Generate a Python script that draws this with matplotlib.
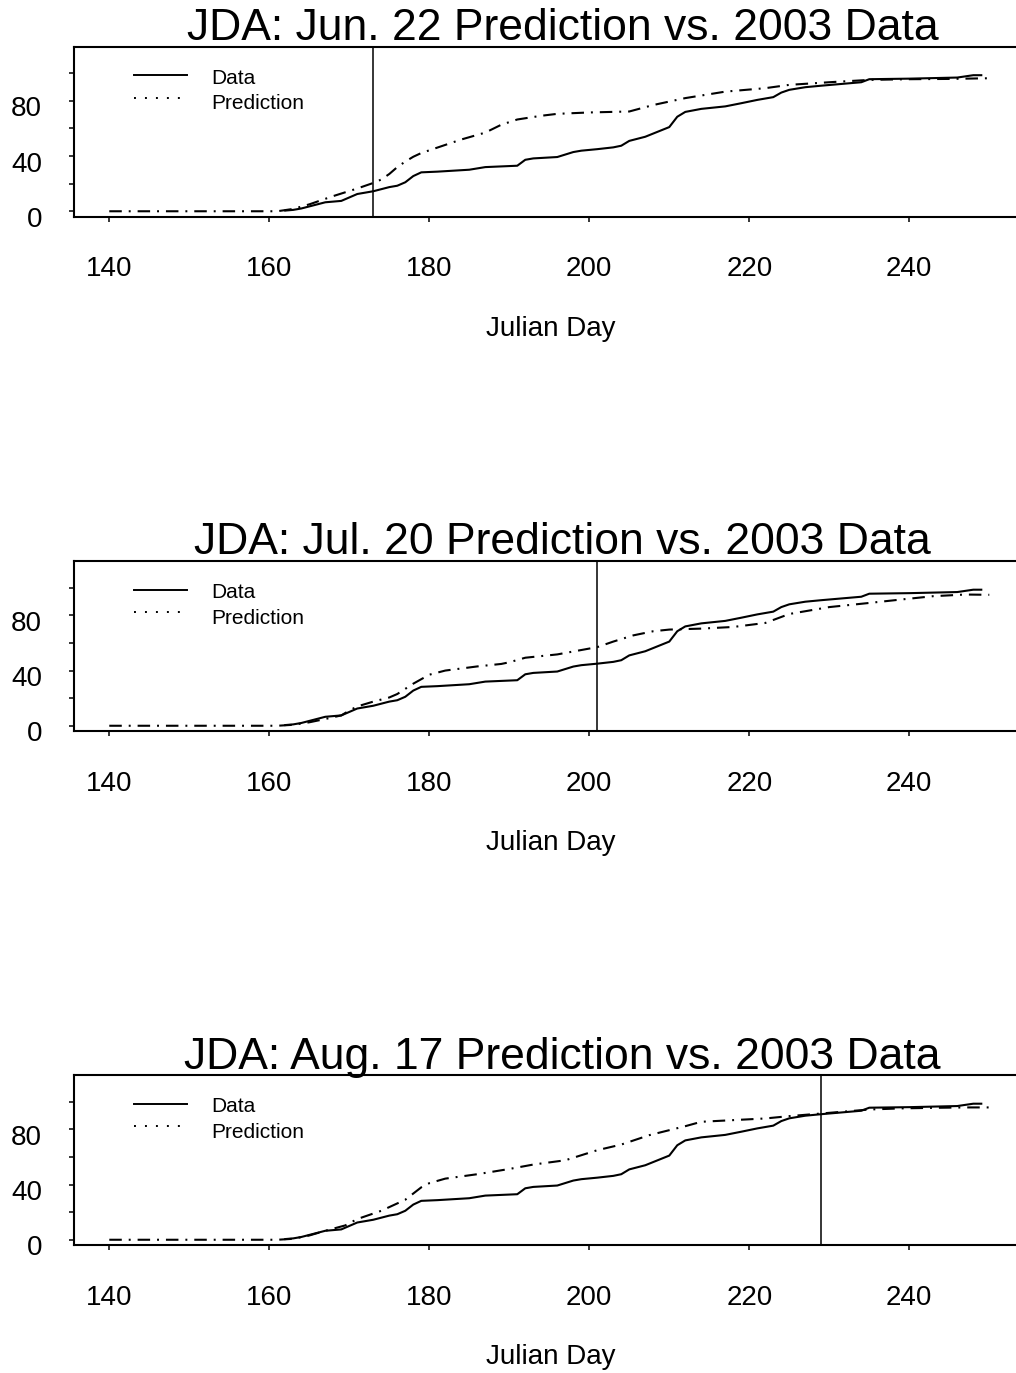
import matplotlib
matplotlib.use("Agg")
import matplotlib.pyplot as plt
import matplotlib.transforms as mtransforms
from matplotlib.lines import Line2D

plt.rcParams['font.family'] = ['Liberation Sans', 'DejaVu Sans']
plt.rcParams['lines.scale_dashes'] = False

# ---------------- data ----------------
titles = ["JDA: Jun. 22 Prediction vs. 2003 Data",
          "JDA: Jul. 20 Prediction vs. 2003 Data",
          "JDA: Aug. 17 Prediction vs. 2003 Data"]
cutoff_days = [173, 201, 229]

data_day = [162, 163, 164, 165, 166, 167, 168, 169, 170, 171, 172, 173, 174, 175, 176,
            177, 178, 179, 181, 185, 187, 191, 192, 193, 196, 198, 199, 201, 203, 204,
            205, 207, 210, 211, 212, 214, 217, 219, 221, 223, 224, 225, 227, 229, 231,
            234, 235, 240, 246, 248, 249]
data_val = [0.5, 1, 2, 3.5, 5, 6.5, 7, 7.5, 10, 12.5, 13.5, 14.5, 16, 17.5, 18.5,
            21, 25.5, 28.2, 28.7, 30.1, 32, 33, 37.3, 38.3, 39.3, 42.9, 43.9, 45, 46.3, 47.5,
            51, 54, 61, 68.5, 72, 74.2, 76, 78.3, 80.7, 82.7, 86, 88, 89.9, 91, 92,
            93.5, 95.7, 96.1, 96.9, 98.6, 98.6]

pred1_day = [140, 161, 163, 165, 168, 171, 173, 174, 175, 176, 177, 178, 179, 184, 187,
             189, 191, 194, 196, 200, 205, 208, 212, 217, 222, 225, 230, 235, 240, 245, 250]
pred1_val = [0, 0, 1.7, 5, 11, 16.5, 20.5, 23, 27, 32, 36, 39.5, 42.2, 52, 57,
             62.7, 66.5, 69.2, 70.6, 71.6, 72.3, 77, 82, 86.7, 89.2, 91.6, 93.5, 95.2, 95.7, 95.9, 96.4]

pred2_day = [140, 161, 163, 165, 167, 169, 170, 171, 173, 175, 176, 178, 180, 182, 186,
             189, 190, 192, 194, 196, 201, 203, 205.5, 208, 210, 214, 218, 222, 225, 230,
             235, 239, 243, 247, 250]
pred2_val = [0, 0, 0.7, 2.5, 4.9, 7.5, 11, 14, 17.5, 20.5, 23, 30.5, 37, 40, 43,
             44.8, 46, 49.3, 50.5, 51.7, 57, 61, 65.5, 68.5, 69.7, 70.4, 71.6, 74.5, 81, 86,
             89, 91.5, 93.9, 95.1, 94.9]

pred3_day = [140, 161, 163, 165, 167, 169.5, 171, 174, 177, 179, 180, 182, 186, 190, 193,
             197, 201, 204, 207.5, 212, 214, 218, 222, 225, 229, 235, 239, 243, 247, 250]
pred3_val = [0, 0, 0.7, 3.1, 6.5, 10.4, 15, 21, 29, 38, 41, 44.3, 47.5, 51.3, 54.5,
             57.6, 64.9, 69, 75.8, 82.3, 85.5, 86.7, 87.9, 89.6, 91.5, 94.4, 95.2, 95.6, 95.9, 95.9]

preds = [(pred1_day, pred1_val), (pred2_day, pred2_val), (pred3_day, pred3_val)]

x_ticks = [140, 160, 180, 200, 220, 240]
y_ticks = [0, 20, 40, 60, 80, 100]
y_ticklabels = ["0", "", "40", "", "80", ""]

# ---------------- layout ----------------
W, H = 1016, 1373
fig = plt.figure(figsize=(W / 100, H / 100), dpi=100)

left_px, right_px = 74, 1040
tops = [46.5, 561, 1075]
ax_h = 170

for i in range(3):
    top = tops[i]
    ax = fig.add_axes([left_px / W, 1 - (top + ax_h) / H, (right_px - left_px) / W, ax_h / H])
    ax.set_xlim(135.59, 256.34)
    ax.set_ylim(-3.8, 119.4)

    pd, pv = preds[i]
    ax.plot(pd, pv, color='black', lw=1.5, linestyle=(0, (9, 5, 1.4, 5)), solid_capstyle='butt')
    ax.plot(data_day, data_val, color='black', lw=1.5, solid_joinstyle='round')
    ax.axvline(cutoff_days[i], color='black', lw=1.1)

    for s in ax.spines.values():
        s.set_linewidth(1.5)
    ax.spines['right'].set_visible(False)

    ax.set_xticks(x_ticks)
    ax.set_xticklabels([str(t) for t in x_ticks])
    ax.set_yticks(y_ticks)
    ax.set_yticklabels(y_ticklabels)
    ax.tick_params(axis='x', direction='out', length=3.6, width=1.1, pad=25, labelsize=20)
    ax.tick_params(axis='y', direction='out', length=3.6, width=1.1, pad=19.5, labelsize=20)
    offset = mtransforms.ScaledTranslation(0, -4.0 / 72, fig.dpi_scale_trans)
    for lab in ax.get_yticklabels():
        lab.set_transform(lab.get_transform() + offset)

    ax.set_xlabel("Julian Day", fontsize=20)
    ax.xaxis.set_label_coords((551 - left_px) / (right_px - left_px), -112 / ax_h)
    ax.xaxis.label.set_va('center')

    ax.text((562.5 - left_px) / (right_px - left_px), 1 + 6.5 / ax_h, titles[i],
            transform=ax.transAxes, ha='center', va='baseline', fontsize=32)

    # legend drawn manually
    def ax_x(px):
        return (px - left_px) / (right_px - left_px)

    def ax_y(py):
        return (top + ax_h - py) / ax_h

    ax.add_line(Line2D([ax_x(134), ax_x(187)], [ax_y(top + 28.5)] * 2, transform=ax.transAxes,
                       color='black', lw=1.4))
    ax.add_line(Line2D([ax_x(134), ax_x(187)], [ax_y(top + 51.2)] * 2, transform=ax.transAxes,
                       color='black', lw=1.4, linestyle=(0, (1.4, 6.5))))
    ax.text(ax_x(211.7), ax_y(top + 37.5), "Data", transform=ax.transAxes,
            ha='left', va='baseline', fontsize=15)
    ax.text(ax_x(211.7), ax_y(top + 62.5), "Prediction", transform=ax.transAxes,
            ha='left', va='baseline', fontsize=15)

fig.savefig("out.png", dpi=100)
